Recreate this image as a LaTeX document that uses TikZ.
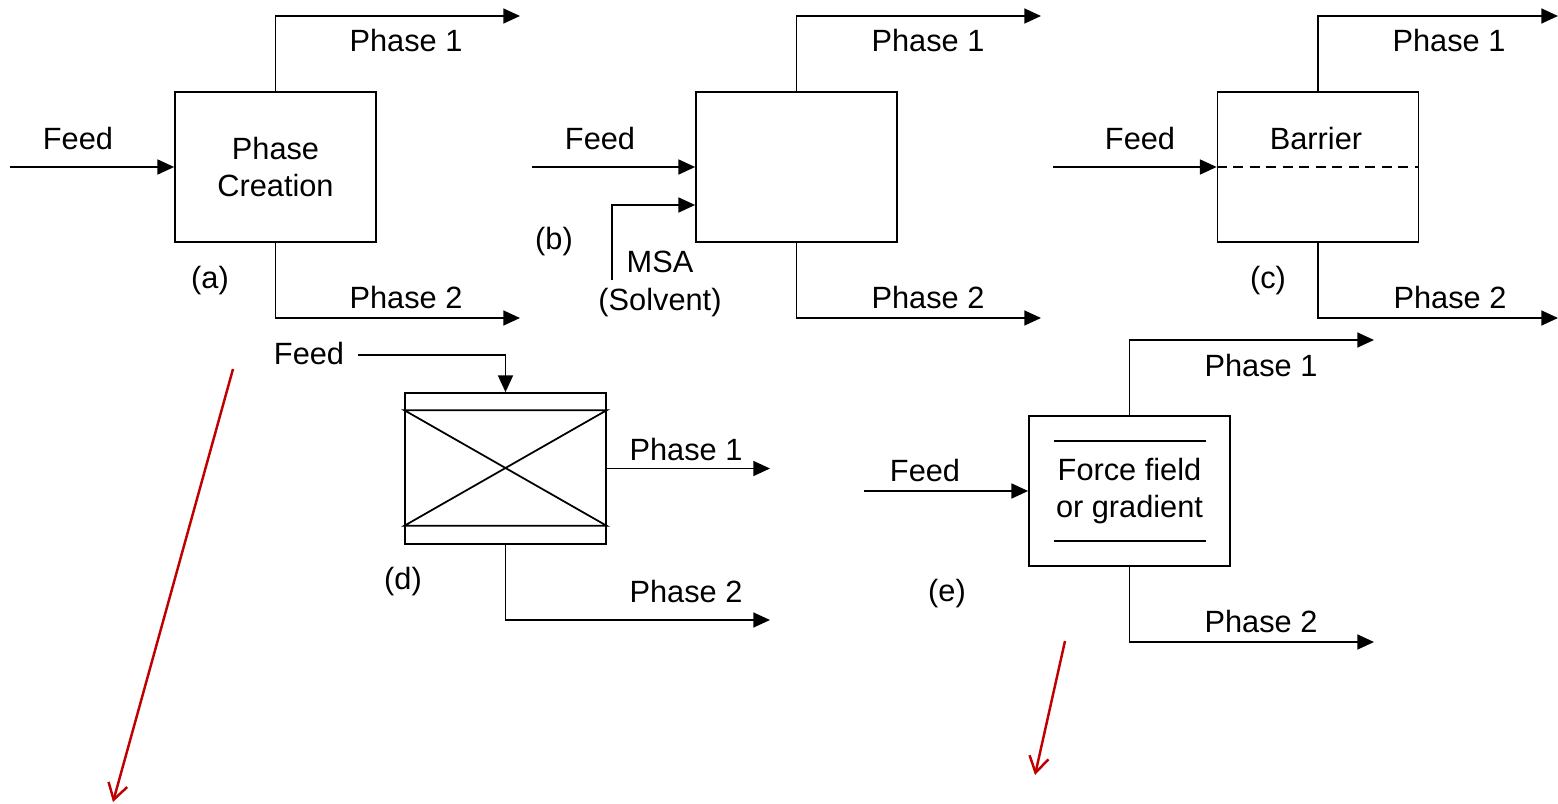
\documentclass[tikz,border=0pt]{standalone}
\usepackage{fontspec}
\setmainfont{Liberation Sans}
\usetikzlibrary{arrows.meta, positioning, calc}
\definecolor{notered}{RGB}{192,0,0}

\begin{document}
\begin{tikzpicture}[
  x=0.02cm, y=-0.02cm,
  font=\fontsize{17.5}{21.5}\selectfont,
  unit/.style={draw, rectangle, minimum width=4.02cm, minimum height=3.0cm,
               inner sep=0pt, align=center, line width=1pt},
  lbl/.style={inner sep=0pt, align=center},
  flow/.style={-{Triangle[length=9.5pt, width=8.5pt]}, line width=1pt},
  sieve/.style={line width=1pt},
  barrierline/.style={line width=1pt, dash pattern=on 5.7pt off 3.7pt},
  note/.style={-{Straight Barb[length=9pt, width=11pt]}, line width=1.4pt, notered},
]
  \useasboundingbox (0,0) rectangle (1558,804);

  % (a) phase creation
  \node[unit] (abox) at (275.5,167) {Phase\\Creation};
  \coordinate (afeed) at (10,167);
  \coordinate (a1) at (520,16);
  \coordinate (a2) at (520,318);
  \draw[flow] (afeed) -- (abox.west);
  \draw[flow] (abox.north) |- (a1);
  \draw[flow] (abox.south) |- (a2);
  \node[lbl] (afeedlbl) at (78,139) {Feed};
  \node[lbl] (a1lbl) at (406,41) {Phase 1};
  \node[lbl] (a2lbl) at (406,298) {Phase 2};
  \node[lbl] (atag) at (210,281) {(a)};

  % (b) separating agent
  \node[unit] (bbox) at (796.5,167) {};
  \coordinate (bfeed) at (532,167);
  \coordinate (bmsa) at (612,280);
  \coordinate (b1) at (1041,16);
  \coordinate (b2) at (1041,318);
  \draw[flow] (bfeed) -- (bbox.west);
  \draw[flow] (bmsa) |- ($(bbox.west)+(0,38)$);
  \draw[flow] (bbox.north) |- (b1);
  \draw[flow] (bbox.south) |- (b2);
  \node[lbl] (bfeedlbl) at (600,139) {Feed};
  \node[lbl] (bmsalbl) at (660,284) {MSA\\(Solvent)};
  \node[lbl] (b1lbl) at (928,41) {Phase 1};
  \node[lbl] (b2lbl) at (928,298) {Phase 2};
  \node[lbl] (btag) at (554,242) {(b)};

  % (c) barrier
  \node[unit] (cbox) at (1318,167) {};
  \coordinate (cfeed) at (1053,167);
  \coordinate (c1) at (1558,16);
  \coordinate (c2) at (1558,318);
  \draw[barrierline] (cbox.west) -- (cbox.east);
  \draw[flow] (cfeed) -- (cbox.west);
  \draw[flow] (cbox.north) |- (c1);
  \draw[flow] (cbox.south) |- (c2);
  \node[lbl] (cfeedlbl) at (1140,139) {Feed};
  \node[lbl] (cbarlbl) at (1316,139) {Barrier};
  \node[lbl] (c1lbl) at (1449,41) {Phase 1};
  \node[lbl] (c2lbl) at (1450,298) {Phase 2};
  \node[lbl] (ctag) at (1268,281) {(c)};

  % (d) solid agent
  \node[unit, minimum height=3.02cm] (dbox) at (505.5,468.5) {};
  \coordinate (dtl) at ($(dbox.north west)+(0,18)$);
  \coordinate (dtr) at ($(dbox.north east)+(0,18)$);
  \coordinate (dbl) at ($(dbox.south west)+(0,-19)$);
  \coordinate (dbr) at ($(dbox.south east)+(0,-19)$);
  \draw[sieve] (dtl) -- (dtr) -- (dbl) -- (dbr) -- cycle;
  \coordinate (dfeed) at (358,355);
  \coordinate (d1) at (770,468.5);
  \coordinate (d2) at (770,620);
  \draw[flow] (dfeed) -| (dbox.north);
  \draw[flow] (dbox.east) -- (d1);
  \draw[flow] (dbox.south) |- (d2);
  \node[lbl] (dfeedlbl) at (309,354) {Feed};
  \node[lbl] (d1lbl) at (686,450) {Phase 1};
  \node[lbl] (d2lbl) at (686,592) {Phase 2};
  \node[lbl] (dtag) at (403,582) {(d)};

  % (e) force field
  \node[unit] (ebox) at (1129.5,491) {Force field\\or gradient};
  \draw[sieve] ($(ebox.north)+(-76,26)$) -- ($(ebox.north)+(76,26)$);
  \draw[sieve] ($(ebox.south)+(-76,-26)$) -- ($(ebox.south)+(76,-26)$);
  \coordinate (efeed) at (864,491);
  \coordinate (e1) at (1374,340);
  \coordinate (e2) at (1374,642);
  \draw[flow] (efeed) -- (ebox.west);
  \draw[flow] (ebox.north) |- (e1);
  \draw[flow] (ebox.south) |- (e2);
  \node[lbl] (efeedlbl) at (925,471) {Feed};
  \node[lbl] (e1lbl) at (1261,366) {Phase 1};
  \node[lbl] (e2lbl) at (1261,622) {Phase 2};
  \node[lbl] (etag) at (947,594) {(e)};

  % red pointers
  \coordinate (n1s) at (233,369);
  \coordinate (n1e) at (113,802);
  \coordinate (n2s) at (1065,641);
  \coordinate (n2e) at (1035,775);
  \draw[note] (n1s) -- (n1e);
  \draw[note] (n2s) -- (n2e);
\end{tikzpicture}
\end{document}
